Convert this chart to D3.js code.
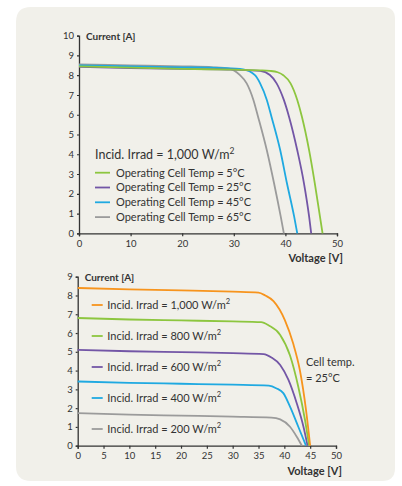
<!DOCTYPE html>
<html>
<head>
<meta charset="utf-8">
<script src="https://cdn.jsdelivr.net/npm/d3@7"></script>
<style>
  body { margin: 0; background: #fff; }
  svg { display: block; font-family: "Lato", "Open Sans", sans-serif; }
</style>
</head>
<body>
<svg id="chart" width="402" height="486"></svg>
<script>
// top chart: temperature curves at 1,000 W/m2
const tempLabels = ["Operating Cell Temp = 5°C", "Operating Cell Temp = 25°C",
  "Operating Cell Temp = 45°C", "Operating Cell Temp = 65°C"];
const tempColors = ["#8dc63f", "#7356a6", "#1fa9e1", "#9b9b9b"];
const temp5 = [[0, 8.45], [10, 8.38], [20, 8.32], [30, 8.28], [35, 8.25], [37, 8.22], [38.5, 8.15], [39.6, 8.0], [41, 7.59], [42.3, 6.75], [43.2, 5.9], [44.6, 4.2], [45.7, 2.53], [46.7, 0.84], [47.2, 0]];
const temp25 = [[0, 8.42], [10, 8.36], [20, 8.32], [30, 8.28], [35.1, 8.22], [37, 8.01], [38.3, 7.59], [39.7, 6.75], [40.7, 5.9], [42.3, 4.2], [43.6, 2.53], [44.6, 0.84], [45, 0]];
const temp45 = [[0, 8.5], [10, 8.45], [20, 8.4], [28, 8.36], [31.8, 8.3], [34.1, 8.0], [35.1, 7.59], [36.4, 6.75], [37.3, 5.9], [39, 4.2], [40.3, 2.53], [41.7, 0.84], [42.3, 0]];
const temp65 = [[0, 8.55], [10, 8.5], [20, 8.45], [26, 8.4], [29.3, 8.32], [31.2, 8.0], [32.5, 7.59], [33.8, 6.75], [34.7, 5.9], [36.4, 4.2], [37.8, 2.53], [39.1, 0.84], [39.7, 0]];
const tempSeries = [temp5, temp25, temp45, temp65];

// bottom chart: irradiance curves at 25°C
const irradLabels = ["1,000", "800", "600", "400", "200"];
const irradColors = ["#f7941d", "#8dc63f", "#7356a6", "#1fa9e1", "#9b9b9b"];
const irr1000 = [[0, 8.4], [10, 8.33], [20, 8.27], [30, 8.2], [35, 8.15], [36.3, 8.0], [37.9, 7.7], [40.1, 6.69], [41.7, 5.45], [43, 4.03], [44.2, 1.9], [45, 0]];
const irr800 = [[0, 6.8], [10, 6.72], [20, 6.67], [30, 6.62], [35.5, 6.58], [37, 6.4], [39.2, 5.9], [41.1, 4.8], [42.7, 3.14], [44, 1.37], [44.8, 0]];
const irr600 = [[0, 5.1], [10, 5.03], [20, 4.98], [30, 4.93], [36, 4.88], [37.5, 4.7], [39.2, 4.3], [40.8, 3.5], [42.4, 2.26], [43.7, 1.01], [44.5, 0]];
const irr400 = [[0, 3.42], [10, 3.35], [20, 3.3], [30, 3.25], [37, 3.2], [38.5, 3.05], [39.8, 2.8], [41.1, 2.08], [42.7, 1.01], [44.2, 0]];
const irr200 = [[0, 1.73], [10, 1.65], [20, 1.6], [30, 1.55], [37.5, 1.5], [39.2, 1.4], [41.1, 1.01], [42.4, 0.48], [43.4, 0]];
const irradSeries = [irr1000, irr800, irr600, irr400, irr200];

const topXTicks = [0, 10, 20, 30, 40, 50];
const topYTicks = d3.range(0, 11);
const botXTicks = d3.range(0, 55, 5);
const botYTicks = d3.range(0, 10);

const svg = d3.select("#chart");
const ink = "#333";

// panel background
svg.append("path")
  .attr("d", "M16,22 Q16,7 31,7 L383,7 Q395,7 395,19 L395,468 Q395,481 382,481 L31,481 Q16,481 16,466 Z")
  .attr("fill", "#f1f0ea");

function drawChart(opt) {
  const x = d3.scaleLinear().domain([0, 50]).range(opt.xRange);
  const y = d3.scaleLinear().domain(opt.yDomain).range(opt.yRange);
  const g = svg.append("g");

  const xAxis = g.append("g")
    .attr("transform", `translate(0,${opt.yRange[0]})`)
    .call(d3.axisBottom(x).tickValues(opt.xTicks).tickSize(3).tickPadding(4));
  const yAxis = g.append("g")
    .attr("transform", `translate(${opt.xRange[0]},0)`)
    .call(d3.axisLeft(y).tickValues(opt.yTicks).tickSize(2).tickPadding(3));
  [xAxis, yAxis].forEach(a => {
    a.select(".domain").attr("stroke", ink).attr("stroke-width", 1.3);
    a.selectAll(".tick line").attr("stroke", ink).attr("stroke-width", 1.2);
    a.selectAll(".tick text").attr("fill", ink).attr("font-size", 9.5)
      .attr("font-family", "Lato, sans-serif");
  });

  g.append("text").attr("x", opt.xRange[0] + 7).attr("y", opt.yRange[1] + 4)
    .attr("font-size", 10).attr("font-weight", "bold").attr("fill", ink)
    .text("Current [A]");
  g.append("text").attr("x", opt.xRange[1] + 6).attr("y", opt.yRange[0] + 29)
    .attr("text-anchor", "end").attr("font-size", 11).attr("font-weight", "bold")
    .attr("fill", ink).text("Voltage [V]");

  const line = d3.line().x(d => x(d[0])).y(d => y(d[1])).curve(d3.curveMonotoneX);
  g.append("g").selectAll("path")
    .data(opt.series.map((s, i) => ({ s, c: opt.colors[i] })).reverse())
    .join("path")
    .attr("d", d => line(d.s))
    .attr("fill", "none")
    .attr("stroke", d => d.c)
    .attr("stroke-width", 1.8);
  return g;
}

const topChart = drawChart({
  xRange: [79, 337], yRange: [233.3, 35.7], yDomain: [0, 10],
  xTicks: topXTicks, yTicks: topYTicks, series: tempSeries, colors: tempColors
});
const botChart = drawChart({
  xRange: [77.7, 336], yRange: [445.7, 276.7], yDomain: [0, 9],
  xTicks: botXTicks, yTicks: botYTicks, series: irradSeries, colors: irradColors
});

// top legend
const head = topChart.append("text").attr("x", 95).attr("y", 159)
  .attr("font-size", 12.5).attr("fill", ink);
head.append("tspan").text("Incid. Irrad = 1,000 W/m");
head.append("tspan").attr("dy", -5).attr("font-size", 8.5).text("2");
const tl = topChart.append("g").selectAll("g").data(tempLabels).join("g")
  .attr("transform", (d, i) => `translate(95,${172.7 + i * 14.8})`);
tl.append("line").attr("x1", 0).attr("x2", 15)
  .attr("stroke", (d, i) => tempColors[i]).attr("stroke-width", 1.8);
tl.append("text").attr("x", 21).attr("dy", "0.35em")
  .attr("font-size", 11).attr("fill", ink).text(d => d);

// bottom legend
const bl = botChart.append("g").selectAll("g").data(irradLabels).join("g")
  .attr("transform", (d, i) => `translate(91.7,${305 + i * 31})`);
bl.append("line").attr("x1", 0).attr("x2", 11)
  .attr("stroke", (d, i) => irradColors[i]).attr("stroke-width", 1.8);
const bt = bl.append("text").attr("x", 15.6).attr("dy", "0.35em")
  .attr("font-size", 11).attr("fill", ink);
bt.append("tspan").text(d => `Incid. Irrad = ${d} W/m`);
bt.append("tspan").attr("dy", -5).attr("font-size", 7.5).text("2");

botChart.append("text").attr("x", 306).attr("y", 366).attr("font-size", 11)
  .attr("fill", ink).text("Cell temp.");
botChart.append("text").attr("x", 306).attr("y", 382).attr("font-size", 11)
  .attr("fill", ink).text("= 25°C");
</script>
</body>
</html>
